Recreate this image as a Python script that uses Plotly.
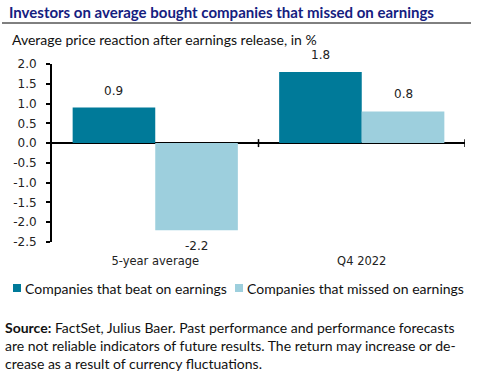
import plotly.graph_objects as go

categories = ["5-year average", "Q4 2022"]
beat_values = [0.9, 1.8]
missed_values = [-2.2, 0.8]
series_names = ["Companies that beat on earnings", "Companies that missed on earnings"]
y_tick_values = [2.0, 1.5, 1.0, 0.5, 0.0, -0.5, -1.0, -1.5, -2.0, -2.5]

title_text = "Investors on average bought companies that missed on earnings"
subtitle_text = "Average price reaction after earnings release, in %"
source_text = ("<b>Source:</b> FactSet, Julius Baer. Past performance and performance forecasts<br>"
               "are not reliable indicators of future results. The return may increase or de-<br>"
               "crease as a result of currency fluctuations.")

TEAL = "#007a99"
LIGHT = "#9dcfdd"
series_colors = [TEAL, LIGHT]
MAIN_FONT = "Lato"
NUM_FONT = "DejaVu Sans"

W, H = 485, 385
ML, MR, MT, MB = 52, 20, 64, 143
plot_w = W - ML - MR
plot_h = H - MT - MB


def px_x(px):
    return (px - ML) / plot_w


def px_y(py):
    return (H - MB - py) / plot_h


fig = go.Figure()
for name, vals, col in zip(series_names, [beat_values, missed_values], series_colors):
    fig.add_trace(go.Bar(x=categories, y=vals, name=name, showlegend=False,
                         marker=dict(color=col, line=dict(width=0))))

annotations = []
for i, (b, m) in enumerate(zip(beat_values, missed_values)):
    for off, v in ((-0.2, b), (0.2, m)):
        annotations.append(dict(x=i + off, y=v, xref="x", yref="y", text=f"{v:.1f}",
                                showarrow=False, yshift=17 if v >= 0 else -16,
                                font=dict(family=NUM_FONT, size=12, color="#222")))

annotations.append(dict(x=px_x(7), xref="paper", y=px_y(12), yref="paper",
                        xanchor="left", yanchor="middle", showarrow=False,
                        text=f"<b>{title_text}</b>",
                        font=dict(family=MAIN_FONT, size=15, color="#15207f")))
annotations.append(dict(x=px_x(10), xref="paper", y=px_y(40), yref="paper",
                        xanchor="left", yanchor="middle", showarrow=False,
                        text=subtitle_text,
                        font=dict(family=MAIN_FONT, size=14, color="#111")))
annotations.append(dict(x=px_x(3), xref="paper", y=px_y(317), yref="paper",
                        xanchor="left", yanchor="top", showarrow=False, align="left",
                        text=source_text,
                        font=dict(family=MAIN_FONT, size=14, color="#111")))

shapes = [
    dict(type="line", xref="paper", yref="paper", x0=px_x(2), x1=px_x(471),
         y0=px_y(23), y1=px_y(23), line=dict(color="black", width=1)),
]
for xb in (0.5, 1.5):
    shapes.append(dict(type="line", xref="x", yref="y", x0=xb, x1=xb, y0=-0.1, y1=0.1,
                       line=dict(color="black", width=1.5)))

# legend (symbol squares + labels)
legend_items = [(13, series_names[0], series_colors[0]), (235, series_names[1], series_colors[1])]
for lx, name, col in legend_items:
    shapes.append(dict(type="rect", xref="paper", yref="paper",
                       x0=px_x(lx), x1=px_x(lx + 8), y0=px_y(292), y1=px_y(284),
                       fillcolor=col, line=dict(width=0)))
    annotations.append(dict(x=px_x(lx + 10), xref="paper", y=px_y(288), yref="paper",
                            xanchor="left", yanchor="middle", showarrow=False,
                            text=name, font=dict(family=MAIN_FONT, size=14, color="#111")))

fig.update_layout(
    width=W, height=H,
    margin=dict(l=ML, r=MR, t=MT, b=MB, autoexpand=False),
    paper_bgcolor="white", plot_bgcolor="white",
    barmode="group", bargap=0.2, bargroupgap=0,
    showlegend=False,
    annotations=annotations,
    shapes=shapes,
    font=dict(family=MAIN_FONT, color="#111"),
)
fig.update_xaxes(showgrid=False, showline=False, ticks="", zeroline=False, automargin=False,
                 tickfont=dict(family=NUM_FONT, size=11.5, color="#222"),
                 ticklabelstandoff=10,
                 range=[-0.5, 1.5])
fig.update_yaxes(range=[-2.5, 2.0], tickvals=y_tick_values, automargin=False,
                 ticktext=[f"{v:.1f}" for v in y_tick_values],
                 showgrid=False, showline=True, linecolor="black", linewidth=2,
                 ticks="outside", ticklen=4, tickwidth=1.5, tickcolor="black",
                 ticklabelstandoff=7,
                 zeroline=True, zerolinecolor="black", zerolinewidth=2,
                 tickfont=dict(family=NUM_FONT, size=12, color="#222"))

fig.write_html("out.html", config={"displayModeBar": False},
               post_script="document.body.style.margin='0';")
